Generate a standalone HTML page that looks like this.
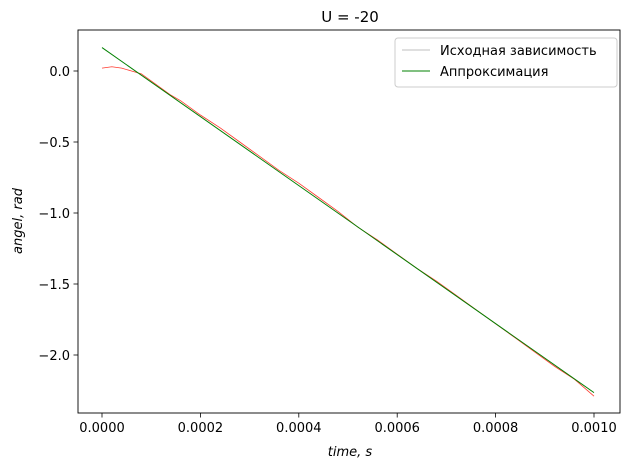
<!DOCTYPE html>
<html><head><meta charset="utf-8"><style>
body{margin:0;background:#fff;}
svg text{font-family:"DejaVu Sans","Liberation Sans",sans-serif;fill:#000;}
</style></head><body>
<svg width="630" height="470" xmlns="http://www.w3.org/2000/svg">
<rect width="630" height="470" fill="#fff"/>
<text x="350" y="22" font-size="15" text-anchor="middle">U = -20</text>
<g id="plot"></g>
<rect x="78" y="30" width="542" height="383" fill="none" stroke="#000" stroke-width="0.9"/>
<text x="350" y="456" font-size="13" font-style="italic" text-anchor="middle">time, s</text>
<text transform="translate(22,221) rotate(-90)" font-size="13" font-style="italic" text-anchor="middle">angel, rad</text>
<g>
<rect x="395" y="38" width="222" height="49" rx="3" fill="#fff" fill-opacity="0.8" stroke="#ccc"/>
<line x1="402" y1="50" x2="430" y2="50" stroke="#808080" stroke-width="0.6"/>
<text x="440" y="55" font-size="13">Исходная зависимость</text>
<line x1="402" y1="71" x2="430" y2="71" stroke="green" stroke-width="1"/>
<text x="440" y="76" font-size="13">Аппроксимация</text>
</g>
</svg>
<script>
const redT=[0,0.02,0.04,0.06,0.08,0.10,0.12,0.14,0.16,0.18,0.20,0.24,0.28,0.32,0.36,0.40,0.44,0.48,0.52,0.56,0.60,0.64,0.68,0.72,0.76,0.80,0.84,0.88,0.92,0.96,1.00];
const redV=[0.02,0.03,0.02,0.0,-0.02,-0.07,-0.12,-0.17,-0.21,-0.26,-0.31,-0.40,-0.50,-0.60,-0.70,-0.79,-0.89,-0.99,-1.10,-1.19,-1.29,-1.39,-1.48,-1.58,-1.68,-1.78,-1.88,-1.98,-2.08,-2.17,-2.29];
const fitT=[0,1.0];
const fitV=[0.165,-2.265];
const xTicks=[0,0.2,0.4,0.6,0.8,1.0];
const xTickLabels=["0.0000","0.0002","0.0004","0.0006","0.0008","0.0010"];
const yTicks=[0,-0.5,-1,-1.5,-2];
const yTickLabels=["0.0","−0.5","−1.0","−1.5","−2.0"];
const X=t=>102+t*492;
const Y=v=>71-v*142;
const NS="http://www.w3.org/2000/svg";
const g=document.getElementById('plot');
function mk(tag,a){const e=document.createElementNS(NS,tag);for(const k in a)e.setAttribute(k,a[k]);g.appendChild(e);return e;}
xTicks.forEach((t,i)=>{
 const l=mk('line',{x1:X(t),x2:X(t),y1:413,y2:417.5,stroke:'#000','stroke-width':0.8});
 
 
 const s=mk('text',{x:X(t),y:432,'font-size':13,'text-anchor':'middle'});s.textContent=xTickLabels[i];
 
 
});
yTicks.forEach((v,i)=>{
 const l=mk('line',{x1:73.5,x2:78,y1:Y(v),y2:Y(v),stroke:'#000','stroke-width':0.8});
 
 
 const s=mk('text',{x:70,y:Y(v)+5,'font-size':13,'text-anchor':'end'});s.textContent=yTickLabels[i];
 
 
});
const r=mk('polyline',{points:redT.map((t,i)=>X(t)+','+Y(redV[i])).join(' '),fill:'none',stroke:'#ff3b30','stroke-width':0.8});


const f=mk('polyline',{points:fitT.map((t,i)=>X(t)+','+Y(fitV[i])).join(' '),fill:'none',stroke:'green','stroke-width':1});


</script>
</body></html>
